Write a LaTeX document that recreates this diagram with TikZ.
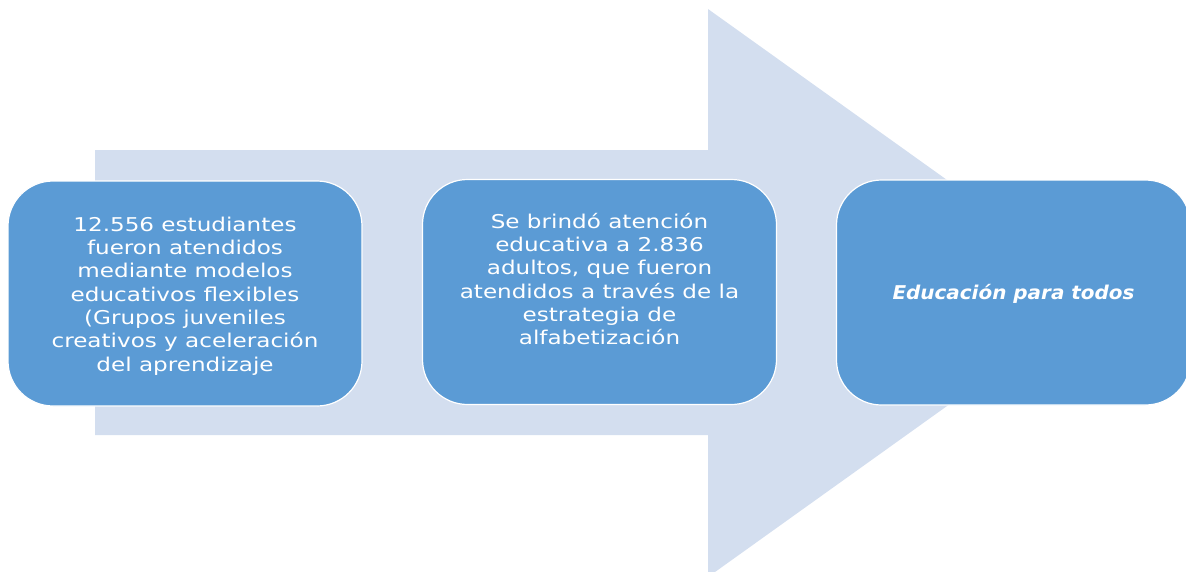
\documentclass[tikz,border=0pt]{standalone}
\usepackage{fontspec}
\setmainfont{DejaVu Sans}[FakeStretch=1.215]
\newfontfamily\emphfont{DejaVu Sans}[FakeStretch=1.05]
\definecolor{arrowfill}{HTML}{D3DEEF}
\definecolor{boxfill}{HTML}{5B9BD5}
\begin{document}
\begin{tikzpicture}[x=1pt,y=-1pt,
  stagebox/.style={draw=white, line width=1.2pt, fill=boxfill, rounded corners=45pt,
    minimum width=354pt, minimum height=225pt, inner sep=0pt},
  stagetext/.style={text=white, align=center, inner sep=0pt,
    font=\fontsize{19}{23.3}\selectfont}]
\useasboundingbox (0,0) rectangle (1186,571);
\clip (0,0) rectangle (1186,571);
% big arrow
\fill[arrowfill] (95,150) -- (708,150) -- (708,9) -- (1105,293) -- (708,577)
  -- (708,435) -- (95,435) -- cycle;
% boxes
\node[stagebox] (b1) at (185,293.5) {};
\node[stagebox] (b2) at (599.5,292) {};
\node[stagebox] (b3) at (1013.5,292.5) {};
% texts
\node[stagetext] (t1) at (185,296) {12.556 estudiantes\\fueron atendidos\\mediante modelos\\educativos flexibles\\(Grupos juveniles\\creativos y aceleración\\del aprendizaje};
\node[stagetext] (t2) at (599.5,279) {Se brindó atención\\educativa a 2.836\\adultos, que fueron\\atendidos a través de la\\estrategia de\\alfabetización};
\node[stagetext, font=\fontsize{19}{23.3}\selectfont\emphfont\bfseries\itshape] (t3) at (1013.5,294) {Educación para todos};
\end{tikzpicture}
\end{document}
